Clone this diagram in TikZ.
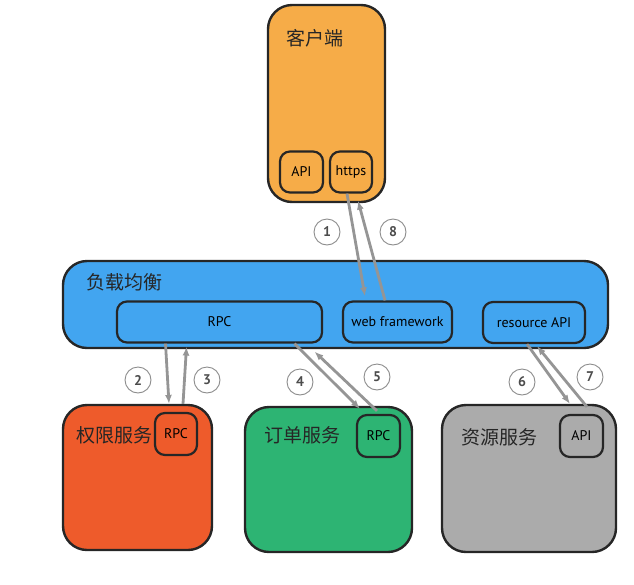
\documentclass[tikz,border=0pt]{standalone}
\usepackage{fontspec}
\setmainfont{PT Sans}
\newfontfamily\cjk{Noto Sans CJK SC}
\usetikzlibrary{arrows.meta}
\definecolor{clientcol}{HTML}{F6AC48}
\definecolor{lbcol}{HTML}{42A5F0}
\definecolor{authcol}{HTML}{EE5B2B}
\definecolor{ordercol}{HTML}{2DB473}
\definecolor{rescol}{HTML}{ABABAB}
\definecolor{flowcol}{HTML}{959595}

\tikzset{
  bigbox/.style={draw=black!85, line width=2.4pt, rounded corners=24pt, inner sep=0pt},
  port/.style={draw=black!85, line width=2.2pt, rounded corners=10pt, inner sep=0pt,
    minimum height=41pt, font=\fontsize{14}{15}\selectfont},
  title/.style={anchor=west, inner sep=0pt, text=black!85, font=\cjk\fontsize{19}{20}\selectfont},
  flow/.style={draw=flowcol, line width=2.8pt, -{Latex[length=9pt,width=7pt]}},
  numcircle/.style={circle, draw=black!45, line width=0.9pt, fill=white, minimum size=26pt,
    inner sep=0pt, text=black!70, font=\bfseries\fontsize{14}{14}\selectfont}
}

\begin{document}
\begin{tikzpicture}[x=1pt,y=-1pt]
  \useasboundingbox (0,0) rectangle (634,584);

  %%%%% client %%%%%
  \node[bigbox, fill=clientcol, minimum width=117pt, minimum height=197pt] (client) at (326.5,103.5) {};
  \node[title] (clienttitle) at (286,38) {客户端};
  \node[port, fill=clientcol, minimum width=43pt] (api) at (301.5,172) {API};
  \node[port, fill=clientcol, minimum width=42pt] (https) at (351,172) {https};

  %%%%% load balancer %%%%%
  \node[bigbox, fill=lbcol, minimum width=545pt, minimum height=87pt] (lb) at (335.5,304.5) {};
  \node[title] (lbtitle) at (86,282) {负载均衡};
  \node[port, fill=lbcol, minimum width=205pt] (rpc) at (219.5,322) {RPC};
  \node[port, fill=lbcol, minimum width=109pt] (web) at (397.5,322) {web framework};
  \node[port, fill=lbcol, minimum width=102pt] (res) at (534,322.5) {resource API};

  %%%%% services %%%%%
  \node[bigbox, fill=authcol, minimum width=149pt, minimum height=145pt] (auth) at (137.5,477.5) {};
  \node[title] (authtitle) at (76,435) {权限服务};
  \node[port, fill=authcol, minimum width=42pt, minimum height=42pt] (authrpc) at (176,434) {RPC};

  \node[bigbox, fill=ordercol, minimum width=167pt, minimum height=145pt] (order) at (328.5,479.5) {};
  \node[title] (ordertitle) at (264,435) {订单服务};
  \node[port, fill=ordercol, minimum width=43pt, minimum height=42pt] (orderrpc) at (378.5,436) {RPC};

  \node[bigbox, fill=rescol, minimum width=174pt, minimum height=147pt] (resrc) at (529,478.5) {};
  \node[title] (resrctitle) at (461,437) {资源服务};
  \node[port, fill=rescol, minimum width=43pt, minimum height=42pt] (resapi) at (581.5,436) {API};

  %%%%% flows %%%%%
  \draw[flow] ([xshift=-4pt]https.south) -- ([xshift=-32.5pt,yshift=4pt]web.north);
  \draw[flow] ([xshift=-12.5pt]web.north) -- ([xshift=7pt,yshift=-7pt]https.south);
  \draw[flow] ([xshift=-54pt]rpc.south) -- ([xshift=-7pt,yshift=8pt]authrpc.north);
  \draw[flow] ([xshift=7pt,yshift=8pt]authrpc.north) -- ([xshift=-33pt,yshift=-3pt]rpc.south);
  \draw[flow] ([xshift=75pt]rpc.south) -- ([xshift=-18.5pt,yshift=5pt]orderrpc.north);
  \draw[flow] ([xshift=-1.5pt,yshift=3pt]orderrpc.north) -- ([xshift=95pt,yshift=-8pt]rpc.south);
  \draw[flow] ([xshift=-7pt]res.south) -- ([xshift=-11.5pt,yshift=10pt]resapi.north);
  \draw[flow] ([xshift=5.5pt,yshift=7pt]resapi.north) -- ([xshift=3pt,yshift=-2pt]res.south);

  %%%%% numbers %%%%%
  \node[numcircle] (n1) at (327,232) {1};
  \node[numcircle] (n8) at (393,232) {8};
  \node[numcircle] (n2) at (138,380) {2};
  \node[numcircle] (n3) at (207,380) {3};
  \node[numcircle] (n4) at (300,382) {4};
  \node[numcircle] (n5) at (377,377) {5};
  \node[numcircle] (n6) at (522,382) {6};
  \node[numcircle] (n7) at (590,377) {7};
\end{tikzpicture}
\end{document}
